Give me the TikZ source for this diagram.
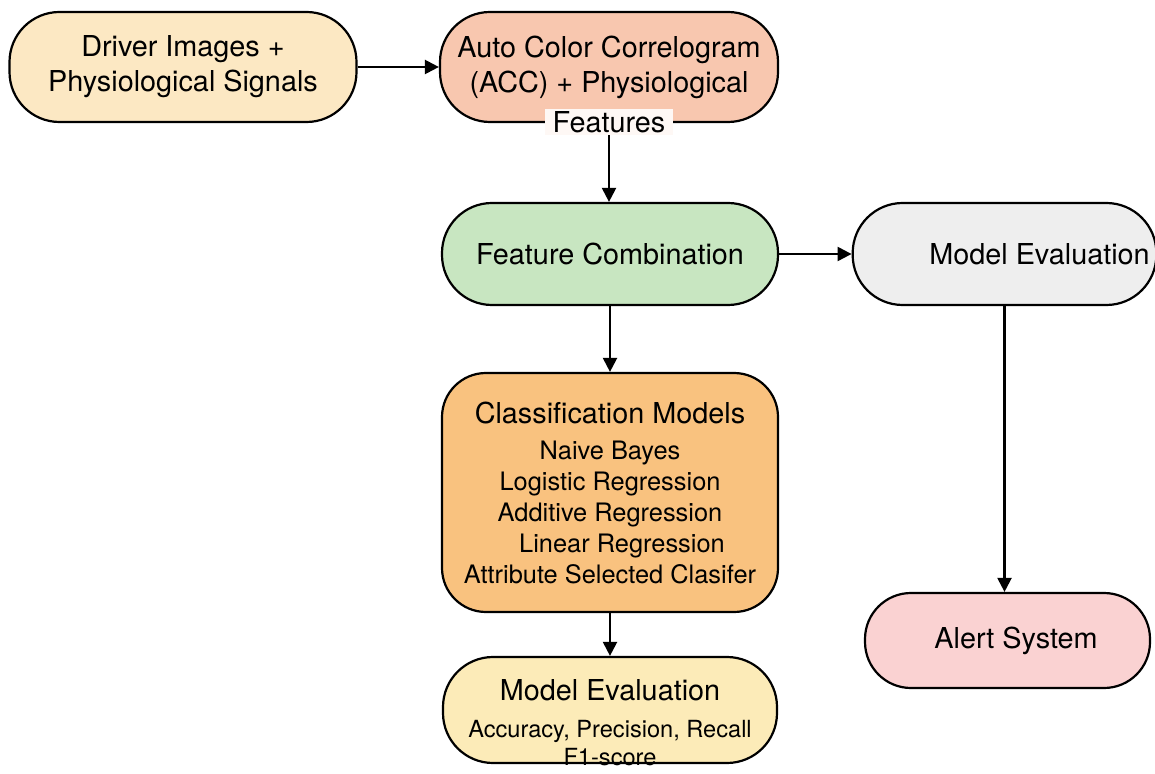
\documentclass[tikz,border=0pt]{standalone}
\usepackage{fontspec}
\setmainfont{TeX Gyre Heros}
\usetikzlibrary{arrows.meta,positioning}
\definecolor{drvfill}{HTML}{FCE8C3}
\definecolor{accfill}{HTML}{F8C7AF}
\definecolor{combfill}{HTML}{C8E6C1}
\definecolor{evalrfill}{HTML}{EEEEEE}
\definecolor{clsmfill}{HTML}{F9C27F}
\definecolor{evalbfill}{HTML}{FCEBB8}
\definecolor{alertfill}{HTML}{FAD2D2}
\newcommand{\boxfont}{\fontsize{14.4}{17.5}\selectfont}
\newcommand{\itemfont}{\fontsize{12.7}{15.5}\selectfont}
\newcommand{\metricfont}{\fontsize{11.8}{14}\selectfont}
\tikzset{
    % Rounded process box
    pill/.style={draw,line width=1.1pt,rounded corners=25pt,align=center,font=\boxfont},
    % Flow arrow
    flowarrow/.style={-{Triangle[length=7pt,width=7pt]},line width=1.1pt}
}

\begin{document}
\begin{tikzpicture}[x=0.5pt,y=-0.5pt]
    \useasboundingbox[fill=white] (0,0) rectangle (1155,774);

    % Input and features row
    \node[pill,fill=drvfill,minimum width=173.5pt,minimum height=55pt] (drv) at (183,67) {Driver Images +\\Physiological Signals};
    \node[pill,fill=accfill,minimum width=169pt,minimum height=55pt] (acc) at (609,67) {Auto Color Correlogram\\(ACC) + Physiological};
    \node[fill=accfill!12!white,inner xsep=4pt,inner ysep=1pt,font=\boxfont] (accfeat) at (609,122) {Features};

    % Combination and right branch
    \node[pill,fill=combfill,minimum width=168pt,minimum height=51pt] (comb) at (610,254) {Feature Combination};
    \node[pill,fill=evalrfill,minimum width=147.5pt,minimum height=51pt] (evalr) at (1004.5,254) {\hspace*{35pt}Model Evaluation};
    \node[pill,fill=alertfill,rounded corners=23pt,minimum width=142.5pt,minimum height=47.5pt] (alert) at (1007.5,640.5) {\hspace*{8.5pt}Alert System};

    % Classifiers
    \node[pill,fill=clsmfill,rounded corners=22pt,font=\itemfont,minimum width=168pt,minimum height=119.5pt] (clsm) at (610,492.5)
        {{\boxfont Classification Models}\\[2.5pt]Naive Bayes\\Logistic Regression\\Additive Regression\\\hspace*{12pt}Linear Regression\\Attribute Selected Clasifer};

    % Evaluation metrics
    \node[pill,fill=evalbfill,minimum width=167pt,minimum height=53pt] (evalb) at (610,710) {};
    \node[align=center,font=\metricfont] (evalt) at (610,723)
        {{\boxfont Model Evaluation}\\[4.5pt]Accuracy, Precision, Recall\\F1-score};

    % Connectors
    \draw[flowarrow] (drv) -- (acc);
    \draw[flowarrow] (accfeat.south) -- (accfeat.south |- comb.north);
    \draw[flowarrow] (comb) -- (evalr);
    \draw[flowarrow] (evalr.south) -- (evalr.south |- alert.north);
    \draw[flowarrow] (comb) -- (clsm);
    \draw[flowarrow] (clsm) -- (evalb);
\end{tikzpicture}
\end{document}
